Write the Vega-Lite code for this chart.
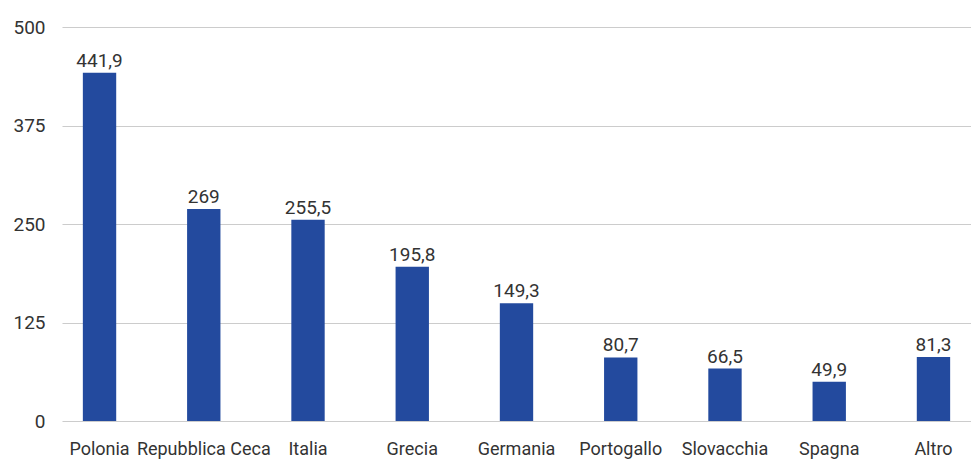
{
  "$schema": "https://vega.github.io/schema/vega-lite/v6.json",
  "width": 909,
  "height": 394,
  "autosize": {"type": "none"},
  "padding": {"left": 62, "top": 27, "right": 0, "bottom": 38},
  "background": "white",
  "config": {
    "view": {"stroke": null},
    "font": "Roboto",
    "locale": {"number": {"decimal": ",", "thousands": ".", "grouping": [3], "currency": ["€", ""]}}
  },
  "data": {
    "values": [
      {"paese": "Polonia", "valore": 441.9},
      {"paese": "Repubblica Ceca", "valore": 269},
      {"paese": "Italia", "valore": 255.5},
      {"paese": "Grecia", "valore": 195.8},
      {"paese": "Germania", "valore": 149.3},
      {"paese": "Portogallo", "valore": 80.7},
      {"paese": "Slovacchia", "valore": 66.5},
      {"paese": "Spagna", "valore": 49.9},
      {"paese": "Altro", "valore": 81.3}
    ]
  },
  "encoding": {
    "x": {
      "field": "paese",
      "type": "nominal",
      "sort": null,
      "title": null,
      "scale": {"paddingInner": 0.68, "paddingOuter": 0.2},
      "axis": {
        "labelAngle": 0,
        "labelFontSize": 18,
        "labelColor": "#333333",
        "labelPadding": 19,
        "ticks": false,
        "domain": false
      }
    },
    "y": {
      "field": "valore",
      "type": "quantitative",
      "title": null,
      "scale": {"domain": [0, 500]},
      "axis": {
        "values": [0, 125, 250, 375, 500],
        "labelFontSize": 19,
        "labelColor": "#333333",
        "labelPadding": 17,
        "ticks": false,
        "domain": false,
        "gridColor": "#cccccc",
        "gridWidth": 1.2
      }
    }
  },
  "layer": [
    {"mark": {"type": "bar", "color": "#234a9e"}},
    {
      "mark": {"type": "text", "baseline": "bottom", "dy": -2, "fontSize": 19, "color": "#333333"},
      "encoding": {"text": {"field": "valore", "type": "quantitative", "format": ".4~r"}}
    }
  ]
}
